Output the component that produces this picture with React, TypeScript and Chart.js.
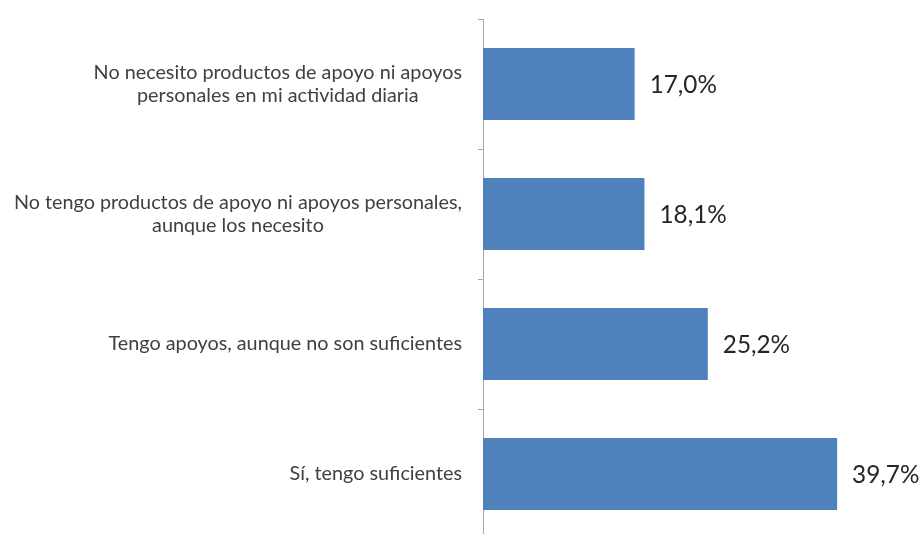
import React, { useEffect, useRef } from "react";
import { Chart, registerables } from "chart.js";

Chart.register(...registerables);

const categories: string[][] = [
  ["No necesito productos de apoyo ni apoyos", "personales en mi actividad diaria"],
  ["No tengo productos de apoyo ni apoyos personales,", "aunque los necesito"],
  ["Tengo apoyos, aunque no son suficientes"],
  ["Sí, tengo suficientes"],
];
const values: number[] = [17.0, 18.1, 25.2, 39.7];
const valueLabels: string[] = ["17,0%", "18,1%", "25,2%", "39,7%"];

const LABEL_FONT = "19.8px Lato";
const VALUE_FONT = "24.3px Lato";

const labelPlugin = {
  id: "customLabels",
  afterDraw(chart: any) {
    const ctx = chart.ctx;
    const yScale = chart.scales.y;
    ctx.save();
    ctx.font = LABEL_FONT;
    ctx.fillStyle = "#404040";
    ctx.textBaseline = "middle";
    ctx.textAlign = "center";
    const rightEdge = chart.chartArea.left - 21;
    const lineH = 23;
    categories.forEach((lines, i) => {
      const yc = yScale.getPixelForTick(i);
      const w = Math.max(...lines.map((l) => ctx.measureText(l).width));
      const xc = rightEdge - w / 2;
      const start = yc - ((lines.length - 1) * lineH) / 2;
      lines.forEach((l, j) => ctx.fillText(l, xc, start + j * lineH));
    });
    ctx.restore();
  },
  afterDatasetsDraw(chart: any) {
    const ctx = chart.ctx;
    const meta = chart.getDatasetMeta(0);
    ctx.save();
    ctx.font = VALUE_FONT;
    ctx.fillStyle = "#262626";
    ctx.textBaseline = "middle";
    ctx.textAlign = "left";
    meta.data.forEach((el: any, i: number) => {
      ctx.fillText(valueLabels[i], el.x + 15, el.y + 1);
    });
    ctx.restore();
  },
};

export default function App() {
  const ref = useRef<HTMLCanvasElement>(null);
  useEffect(() => {
    if (!ref.current) return;
    const chart = new Chart(ref.current, {
      type: "bar",
      data: {
        labels: categories.map((c) => c.join(" ")),
        datasets: [
          {
            data: values,
            backgroundColor: "#4F81BD",
            borderWidth: 0,
            categoryPercentage: 1,
            barPercentage: 0.555,
          },
        ],
      },
      options: {
        indexAxis: "y",
        animation: false,
        responsive: false,
        layout: { padding: { top: 19, bottom: 6, left: 0, right: 37.6 } },
        plugins: { legend: { display: false }, tooltip: { enabled: false } },
        scales: {
          x: { display: false, min: 0, max: 45 },
          y: {
            afterFit: (s: any) => {
              s.width = 483;
            },
            ticks: { display: false },
            border: { display: true, color: "#a6a6a6", width: 1 },
            grid: {
              display: true,
              drawOnChartArea: false,
              drawTicks: true,
              tickLength: 5,
              offset: true,
              color: "#a6a6a6",
            },
          },
        },
      },
      plugins: [labelPlugin],
    });
    return () => chart.destroy();
  }, []);
  return (
    <div style={{ position: "absolute", left: 0, top: 0, width: 922, height: 545, background: "#fff" }}>
      <canvas ref={ref} width={922} height={545} />
    </div>
  );
}
